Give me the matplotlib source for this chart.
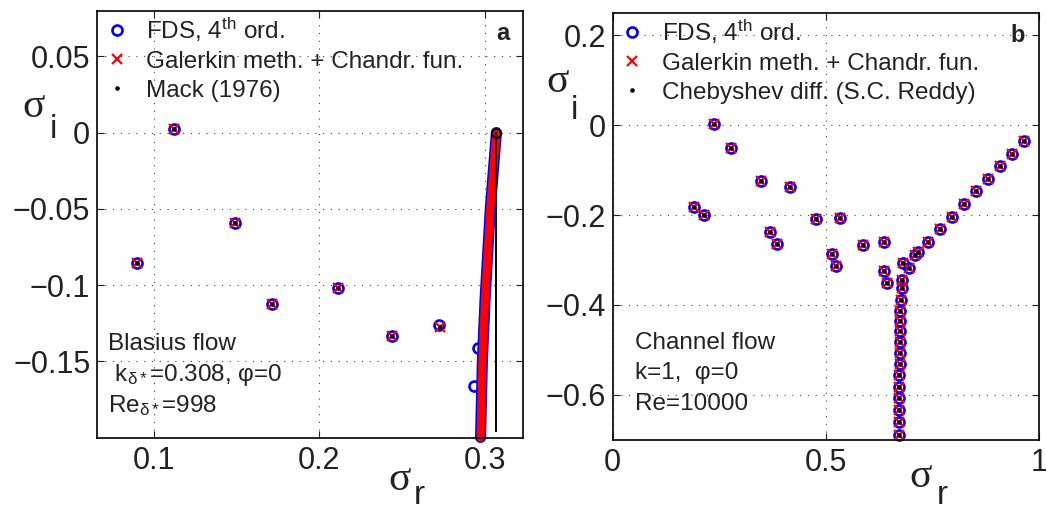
import numpy as np
import matplotlib
matplotlib.use('Agg')
import matplotlib.pyplot as plt

plt.rcParams['font.family'] = ['Liberation Sans', 'DejaVu Sans']
plt.rcParams['mathtext.fontset'] = 'custom'
plt.rcParams['mathtext.rm'] = 'Liberation Sans'
plt.rcParams['mathtext.it'] = 'Liberation Sans:italic'
plt.rcParams['mathtext.bf'] = 'Liberation Sans:bold'
plt.rcParams['text.color'] = '#222222'
plt.rcParams['xtick.color'] = '#222222'
plt.rcParams['ytick.color'] = '#222222'

# ---- panel a: Blasius flow ----
fds_a_r = [0.0893, 0.1121, 0.1492, 0.1716, 0.2115, 0.2442, 0.2722, 0.2938, 0.2958]
fds_a_i = [-0.0855, 0.0024, -0.0592, -0.1125, -0.1018, -0.1337, -0.1263, -0.1660, -0.1410]
gal_a_r = [0.0893, 0.1121, 0.1492, 0.1716, 0.2115, 0.2442, 0.2730]
gal_a_i = [-0.0855, 0.0024, -0.0592, -0.1125, -0.1018, -0.1337, -0.1278]
mack_r = [0.0893, 0.1121, 0.1492, 0.1716, 0.2115, 0.2442, 0.2730]
mack_i = [-0.0855, 0.0024, -0.0592, -0.1125, -0.1018, -0.1337, -0.1278]
# continuous branch (dense markers) near sigma_r = 0.3
branch_r = [0.2976, 0.2987, 0.3003, 0.3035, 0.3072]
branch_i = [-0.2000, -0.1500, -0.1100, -0.0500, 0.0000]
mack_line_r = [0.3072, 0.3072]
mack_line_i = [-0.196, 0.0]

# ---- panel b: channel flow ----
chan_r = [0.238, 0.278, 0.348, 0.416, 0.191, 0.214, 0.369, 0.385, 0.476, 0.533,
          0.514, 0.523, 0.587, 0.637, 0.635, 0.643, 0.680, 0.694, 0.709, 0.716,
          0.738, 0.767, 0.795, 0.824, 0.852, 0.880, 0.909, 0.937, 0.965,
          0.677, 0.679, 0.675, 0.674, 0.674, 0.674, 0.674, 0.673, 0.673, 0.672,
          0.672, 0.672, 0.672, 0.672, 0.672]
chan_i = [0.003, -0.051, -0.125, -0.138, -0.183, -0.199, -0.238, -0.265, -0.209, -0.206,
          -0.286, -0.313, -0.267, -0.260, -0.324, -0.351, -0.307, -0.319, -0.289, -0.283,
          -0.259, -0.231, -0.204, -0.176, -0.147, -0.120, -0.091, -0.064, -0.036,
          -0.344, -0.363, -0.390, -0.413, -0.436, -0.459, -0.483, -0.507, -0.531, -0.557,
          -0.582, -0.608, -0.634, -0.662, -0.690]

labels_a = ['FDS, 4$^{\\mathrm{th}}$ ord.', 'Galerkin meth. + Chandr. fun.', 'Mack (1976)']
labels_b = ['FDS, 4$^{\\mathrm{th}}$ ord.', 'Galerkin meth. + Chandr. fun.', 'Chebyshev diff. (S.C. Reddy)']

blue = '#0000ff'
red = '#ff0000'
fds_style = dict(ls='none', marker='o', ms=7.2, mew=1.9, mfc='none', mec=blue, clip_on=False)
gal_style = dict(ls='none', marker='x', ms=6.8, mew=1.6, color=red, clip_on=False)
ref_style = dict(ls='none', marker='o', ms=3.3, mew=0, color='k', clip_on=False)

fig = plt.figure(figsize=(10.46, 5.12), dpi=100)
ax1 = fig.add_axes([0.0930, 0.1455, 0.4073, 0.8330])
ax2 = fig.add_axes([0.5858, 0.1416, 0.4078, 0.8330])

# panel a
h1, = ax1.plot(fds_a_r, fds_a_i, **fds_style)
ax1.plot(branch_r, branch_i, color=blue, lw=8.0, solid_capstyle='round',
         solid_joinstyle='round', clip_on=False)
h2, = ax1.plot(gal_a_r, gal_a_i, **gal_style)
ax1.plot(branch_r, branch_i, color=red, lw=5.8, solid_capstyle='round',
         solid_joinstyle='round', clip_on=False)
h3, = ax1.plot(mack_r, mack_i, **ref_style)
ax1.plot(mack_line_r, mack_line_i, color='k', lw=1.4)
ax1.plot(mack_line_r[-1:], mack_line_i[-1:], ls='none', marker='o', ms=6.5, mew=1.4,
         mfc='none', mec='k', clip_on=False)
ax1.set_xlim(0.0655, 0.3235)
ax1.set_ylim(-0.2, 0.0797)
ax1.set_xticks([0.1, 0.2, 0.3])
ax1.set_xticklabels(['0.1', '0.2', '0.3'])
ax1.set_yticks([-0.15, -0.1, -0.05, 0, 0.05])
ax1.set_yticklabels(['\u22120.15', '\u22120.1', '\u22120.05', '0', '0.05'])

# panel b
g1, = ax2.plot(chan_r, chan_i, **fds_style)
g2, = ax2.plot(chan_r, chan_i, **gal_style)
g3, = ax2.plot(chan_r, chan_i, **ref_style)
ax2.set_xlim(0, 1)
ax2.set_ylim(-0.7, 0.25)
ax2.set_xticks([0, 0.5, 1])
ax2.set_xticklabels(['0', '0.5', '1'])
ax2.set_yticks([-0.6, -0.4, -0.2, 0, 0.2])
ax2.set_yticklabels(['\u22120.6', '\u22120.4', '\u22120.2', '0', '0.2'])

for ax, hs, labs in [(ax1, [h1, h2, h3], labels_a), (ax2, [g1, g2, g3], labels_b)]:
    ax.grid(True, linestyle=(0, (1, 6)), color='#444444', lw=0.8)
    ax.tick_params(direction='in', length=5, width=0.8, top=True, right=True,
                   labelsize=22)
    ax.tick_params(axis='x', pad=6)
    ax.tick_params(axis='y', pad=5)
    for s in ax.spines.values():
        s.set_linewidth(1.2)
    ax.legend(hs, labs, loc='upper left', frameon=False, fontsize=17.5,
              borderaxespad=0.0, borderpad=0.2, handlelength=1.2,
              handletextpad=0.62, labelspacing=0.28)

ax1.text(0.967, 0.932, 'a', transform=ax1.transAxes, ha='right', va='baseline',
         fontsize=17, fontweight='bold')
ax2.text(0.967, 0.932, 'b', transform=ax2.transAxes, ha='right', va='baseline',
         fontsize=17, fontweight='bold')

ax1.text(0.025, 0.205, 'Blasius flow', transform=ax1.transAxes, fontsize=17.5, va='baseline')
ax1.text(0.025, 0.132, ' k$_{\\mathrm{\u03b4*}}$=0.308, \u03c6=0', transform=ax1.transAxes,
         fontsize=17.5, va='baseline')
ax1.text(0.025, 0.060, 'Re$_{\\mathrm{\u03b4*}}$=998', transform=ax1.transAxes,
         fontsize=17.5, va='baseline')

ax2.text(0.052, 0.213, 'Channel flow', transform=ax2.transAxes, fontsize=17.5, va='baseline')
ax2.text(0.052, 0.141, 'k=1,  \u03c6=0', transform=ax2.transAxes, fontsize=17.5, va='baseline')
ax2.text(0.052, 0.070, 'Re=10000', transform=ax2.transAxes, fontsize=17.5, va='baseline')

# axis labels (sigma_i at left, sigma_r below)
sig = dict(family='Liberation Serif', fontsize=30, va='baseline', ha='left')
sub = dict(fontsize=24, va='baseline', ha='left')
fig.text(0.0217, 0.772, '\u03c3', **sig)
fig.text(0.0471, 0.731, 'i', **sub)
fig.text(0.5227, 0.820, '\u03c3', **sig)
fig.text(0.5456, 0.767, 'i', **sub)
fig.text(0.3712, 0.043, '\u03c3', **sig)
fig.text(0.3958, 0.001, 'r', fontsize=24, va='bottom', ha='left')
fig.text(0.8693, 0.048, '\u03c3', **sig)
fig.text(0.8958, 0.001, 'r', fontsize=24, va='bottom', ha='left')

fig.savefig('out.png', dpi=100)
